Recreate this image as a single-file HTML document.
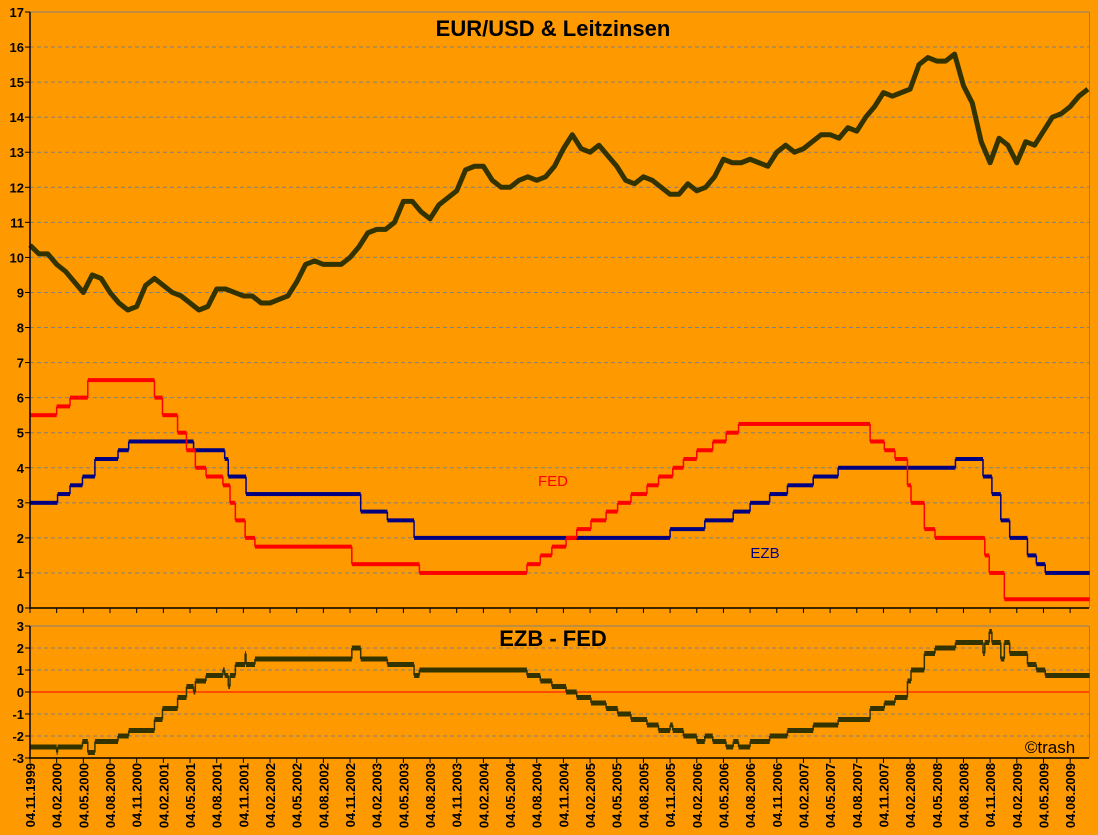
<!DOCTYPE html>
<html><head><meta charset="utf-8"><style>
body{margin:0;background:#FF9900;}
svg{display:block;font-family:"Liberation Sans",sans-serif;}
</style></head><body>
<svg id="c" width="1098" height="835" viewBox="0 0 1098 835" xmlns="http://www.w3.org/2000/svg">
<rect x="0" y="0" width="1098" height="835" fill="#FF9900"/>
<g id="grid"></g>
<g id="marks"></g>
<g id="axes"></g>
<text x="553" y="36" text-anchor="middle" font-size="22" font-weight="bold">EUR/USD &amp; Leitzinsen</text>
<text x="553" y="646" text-anchor="middle" font-size="22" font-weight="bold">EZB - FED</text>
<text x="553" y="486" text-anchor="middle" font-size="15" fill="#FF0000">FED</text>
<text x="765" y="558" text-anchor="middle" font-size="15" fill="#000080">EZB</text>
<text x="1050" y="753" text-anchor="middle" font-size="17" fill="#000">©trash</text>
</svg>
<script>
// monthly EUR/USD (x10) from Nov 1999
const eurusd=[10.35,10.1,10.1,9.8,9.6,9.3,9.0,9.5,9.4,9.0,8.7,8.5,8.6,9.2,9.4,9.2,9.0,8.9,8.7,8.5,8.6,9.1,9.1,9.0,8.9,8.9,8.7,8.7,8.8,8.9,9.3,9.8,9.9,9.8,9.8,9.8,10.0,10.3,10.7,10.8,10.8,11.0,11.6,11.6,11.3,11.1,11.5,11.7,11.9,12.5,12.6,12.6,12.2,12.0,12.0,12.2,12.3,12.2,12.3,12.6,13.1,13.5,13.1,13.0,13.2,12.9,12.6,12.2,12.1,12.3,12.2,12.0,11.8,11.8,12.1,11.9,12.0,12.3,12.8,12.7,12.7,12.8,12.7,12.6,13.0,13.2,13.0,13.1,13.3,13.5,13.5,13.4,13.7,13.6,14.0,14.3,14.7,14.6,14.7,14.8,15.5,15.7,15.6,15.6,15.8,14.9,14.4,13.3,12.7,13.4,13.2,12.7,13.3,13.2,13.6,14.0,14.1,14.3,14.6,14.8];
// rate change months (index from Nov 1999) and values
const fedMonths=[0,3,4.5,6.5,14,14.9,16.6,17.6,18.6,19.8,21.7,22.5,23.1,24.2,25.3,36.2,43.8,55.9,57.4,58.7,60.3,61.5,63.1,64.8,66.1,67.6,69.4,70.7,72.3,73.5,75,76.8,78.3,79.7,94.5,96.1,97.3,98.7,99.1,100.6,101.8,107.4,107.9,109.6];
const fedValues=[5.5,5.75,6.0,6.5,6.0,5.5,5.0,4.5,4.0,3.75,3.5,3.0,2.5,2.0,1.75,1.25,1.0,1.25,1.5,1.75,2.0,2.25,2.5,2.75,3.0,3.25,3.5,3.75,4.0,4.25,4.5,4.75,5.0,5.25,4.75,4.5,4.25,3.5,3.0,2.25,2.0,1.5,1.0,0.25];
const ezbMonths=[0,3.1,4.5,5.9,7.3,9.9,11.1,18.4,21.9,22.3,24.3,37.2,40.2,43.2,72,75.9,79.1,81,83.2,85.2,88.1,90.9,104.1,107.2,108.2,109.2,110.2,112.2,113.2,114.2];
const ezbValues=[3.0,3.25,3.5,3.75,4.25,4.5,4.75,4.5,4.25,3.75,3.25,2.75,2.5,2.0,2.25,2.5,2.75,3.0,3.25,3.5,3.75,4.0,4.25,3.75,3.25,2.5,2.0,1.5,1.25,1.0];
const upperTicks=[0,1,2,3,4,5,6,7,8,9,10,11,12,13,14,15,16,17];
const lowerTicks=[-3,-2,-1,0,1,2,3];
const xLabels=["04.11.1999","04.02.2000","04.05.2000","04.08.2000","04.11.2000","04.02.2001","04.05.2001","04.08.2001","04.11.2001","04.02.2002","04.05.2002","04.08.2002","04.11.2002","04.02.2003","04.05.2003","04.08.2003","04.11.2003","04.02.2004","04.05.2004","04.08.2004","04.11.2004","04.02.2005","04.05.2005","04.08.2005","04.11.2005","04.02.2006","04.05.2006","04.08.2006","04.11.2006","04.02.2007","04.05.2007","04.08.2007","04.11.2007","04.02.2008","04.05.2008","04.08.2008","04.11.2008","04.02.2009","04.05.2009","04.08.2009"];
const NS="http://www.w3.org/2000/svg";
const X0=30,X1=1089,MEND=119.2;
const x=m=>X0+m*(26.67/3);
const yU=v=>608-v*(596/17);
const yL=v=>692-v*22;
function mk(t,a,p){const e=document.createElementNS(NS,t);for(const k in a)e.setAttribute(k,a[k]);document.getElementById(p).appendChild(e);return e;}
upperTicks.forEach(v=>{
 if(v>0){const g=mk('line',{x1:X0,x2:X1,y1:yU(v),y2:yU(v),stroke:'#808080','stroke-width':1,'stroke-dasharray':v==17?'':'4,3'},'grid');
 
 }
 const t=mk('text',{x:24,y:yU(v)+5,'text-anchor':'end','font-size':13,'font-weight':'bold'},'axes');t.textContent=v;
 
 
});
lowerTicks.forEach(v=>{
 if(v!=0&&v!=-3){const g=mk('line',{x1:X0,x2:X1,y1:yL(v),y2:yL(v),stroke:'#808080','stroke-width':1,'stroke-dasharray':v==3?'':'4,3'},'grid');
 
 }
 const t=mk('text',{x:24,y:yL(v)+5,'text-anchor':'end','font-size':13,'font-weight':'bold'},'axes');t.textContent=v;
 
 
});
let zl=mk('line',{x1:X0,x2:X1,y1:yL(0),y2:yL(0),stroke:'#FF0000','stroke-width':1},'grid');


[[12,608],[626,758]].forEach(([a,b])=>{
 let r=mk('line',{x1:X1+.5,x2:X1+.5,y1:a,y2:b,stroke:'#808080'},'grid');
 
 
 let l=mk('line',{x1:X0,x2:X0,y1:a,y2:b+1,stroke:'#000','stroke-width':1.5},'axes');
 
 
 let bl=mk('line',{x1:X0,x2:X1,y1:b,y2:b,stroke:'#000','stroke-width':1.5},'axes');
 
 
 for(let i=0;i<xLabels.length;i++){const tx=x(i*3);let tk=mk('line',{x1:tx,x2:tx,y1:b,y2:b+5,stroke:'#000'},'axes');
 
 }
});
upperTicks.forEach(v=>{let t=mk('line',{x1:X0-5,x2:X0,y1:yU(v),y2:yU(v),stroke:'#000'},'axes');
 
 });
lowerTicks.forEach(v=>{let t=mk('line',{x1:X0-5,x2:X0,y1:yL(v),y2:yL(v),stroke:'#000'},'axes');
 
 });
xLabels.forEach((s,i)=>{
 const tx=x(i*3)+5;
 const t=mk('text',{x:0,y:0,transform:`translate(${tx},763) rotate(-90)`,'text-anchor':'end','font-size':13,'font-weight':'bold'},'axes');
 t.textContent=s;
 
 
});
const pts=eurusd.map((v,i)=>`${x(i)},${yU(v)}`).join(' ');
const pl=mk('polyline',{points:pts,fill:'none',stroke:'#333300','stroke-width':5,'stroke-linejoin':'round'},'marks');


function stepAt(ms,vs,m){let v=vs[0];for(let i=0;i<ms.length;i++)if(ms[i]<=m)v=vs[i];return v;}
function steps(ms,vs,col,name){
 for(let i=0;i<ms.length;i++){
  const a=x(ms[i]),b=x(i<ms.length-1?ms[i+1]:MEND);
  const r=mk('rect',{x:a,y:yU(vs[i])-2,width:b-a,height:4,fill:col},'marks');
  
  
  if(i<ms.length-1){const l=mk('line',{x1:b,x2:b,y1:yU(vs[i]),y2:yU(vs[i+1]),stroke:col,'stroke-width':1.5},'marks');
  
  }
 }
}
steps(ezbMonths,ezbValues,'#000080','ezb');
steps(fedMonths,fedValues,'#FF0000','fed');
const all=[...new Set([0,...fedMonths,...ezbMonths])].sort((a,b)=>a-b);
all.forEach((m,i)=>{
 const d=stepAt(ezbMonths,ezbValues,m)-stepAt(fedMonths,fedValues,m);
 const n=i<all.length-1?all[i+1]:MEND;
 const r=mk('rect',{x:x(m),y:yL(d)-2.5,width:x(n)-x(m),height:5,fill:'#333300'},'marks');
 
 
 if(i<all.length-1){const d2=stepAt(ezbMonths,ezbValues,n)-stepAt(fedMonths,fedValues,n);
 const l=mk('line',{x1:x(n),x2:x(n),y1:yL(d),y2:yL(d2),stroke:'#333300','stroke-width':1.5},'marks');
 
 }
});
</script>
</body></html>
